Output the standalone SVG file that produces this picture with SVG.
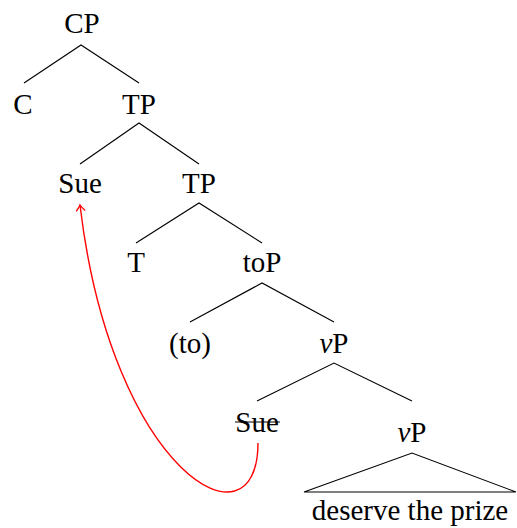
<svg xmlns="http://www.w3.org/2000/svg" width="517" height="528" viewBox="0 0 517 528">
<style>
text{font-family:"Liberation Serif","Times New Roman",serif;font-size:29px;fill:#000;text-anchor:middle}
.e{stroke:#000;stroke-width:1.1;fill:none}
.mv{stroke:#ff0000;stroke-width:1.4;fill:none}
</style>
<defs>
<marker id="ah" viewBox="-8 -6 10 12" markerWidth="10" markerHeight="12" refX="0" refY="0" orient="auto" markerUnits="userSpaceOnUse">
<path d="M-6,-4.5 Q-2,-1 0,0 Q-2,1 -6,4.5" fill="none" stroke="#ff0000" stroke-width="1.3"/>
</marker>
</defs>
<rect width="517" height="528" fill="#fff"/>
<g id="edges">
<path class="e" d="M24,83 L81,45 L139,83"/>
<path class="e" d="M80,164 L139,123 L199,164"/>
<path class="e" d="M136,243 L199,203 L262,243"/>
<path class="e" d="M190,322 L262,283 L334,322"/>
<path class="e" d="M257,401 L334,363 L412,401"/>
<path class="e" d="M304,492 L412,453 L516,492 Z"/>
</g>
<g id="n-CP"><text x="82" y="33">CP</text></g>
<g id="n-C"><text x="23" y="114">C</text></g>
<g id="n-TP1"><text x="139" y="114">TP</text></g>
<g id="n-Sue1"><text x="80" y="193">Sue</text></g>
<g id="n-TP2"><text x="199" y="193">TP</text></g>
<g id="n-T"><text x="136" y="272">T</text></g>
<g id="n-toP"><text x="262" y="272">toP</text></g>
<g id="n-to"><text x="190" y="353">(to)</text></g>
<g id="n-vP1"><text x="334" y="353"><tspan font-style="italic">v</tspan>P</text></g>
<g id="n-Sue2"><text x="257" y="432">Sue</text><line x1="235" y1="422" x2="280" y2="422" stroke="#000" stroke-width="1.1"/></g>
<g id="n-vP2"><text x="412" y="442"><tspan font-style="italic">v</tspan>P</text></g>
<g id="n-prize"><text x="410" y="520">deserve the prize</text></g>
<g id="movement">
<path class="mv" d="M258,443 C258,555 112,475 80,205" marker-end="url(#ah)"/>
</g>
</svg>
